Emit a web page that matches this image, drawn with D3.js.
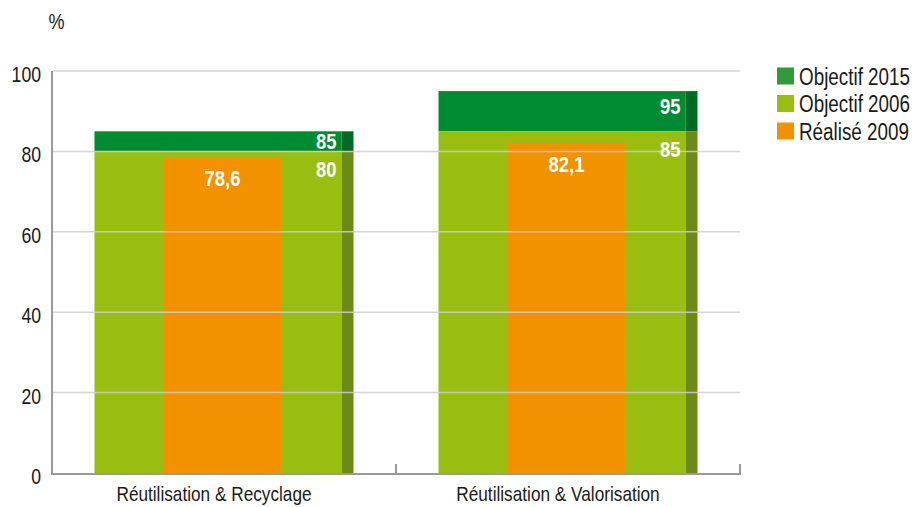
<!DOCTYPE html>
<html>
<head>
<meta charset="utf-8">
<script src="https://cdn.jsdelivr.net/npm/d3@7"></script>
<style>
html,body{margin:0;padding:0;background:#fff;}
svg{display:block;}
text{font-family:"Liberation Sans",Arial,sans-serif;}
</style>
</head>
<body>
<svg id="chart" width="916" height="507"></svg>
<script>
const categories = ["Réutilisation & Recyclage", "Réutilisation & Valorisation"];
const objectif2015 = [85, 95];
const objectif2006 = [80, 85];
const realise2009 = [78.6, 82.1];
const yTicks = [0, 20, 40, 60, 80, 100];
const legendLabels = ["Objectif 2015", "Objectif 2006", "Réalisé 2009"];

const colors = {
  g2015: "#008a32", g2015side: "#006a25",
  g2006: "#9abd11", g2006side: "#6b8a18",
  r2009: "#f39200",
  legend2015: "#319b3a"
};
const SX = 0.82; // condensed look

const svg = d3.select("#chart");
const y = d3.scaleLinear().domain([0, 100]).range([473, 71]);
const x = d3.scaleBand().domain(categories).range([52, 740]).padding(0);
const fmt = d3.formatLocale({decimal: ",", thousands: " ", grouping: [3], currency: ["", "€"]}).format("~g");

function addText(g, tx, ty, str, size, anchor, fill, weight) {
  return g.append("text")
    .attr("transform", `translate(${tx},${ty}) scale(${SX},1)`)
    .attr("text-anchor", anchor || "start")
    .attr("font-size", size)
    .attr("font-weight", weight || "normal")
    .attr("fill", fill || "#1a1a1a")
    .text(str);
}

const barW = 259, sideW = 12, orangeW = 117;
const bw = x.bandwidth();
const data = categories.map((c, i) => ({c, v15: objectif2015[i], v06: objectif2006[i], v09: realise2009[i]}));

const gBars = svg.append("g");
data.forEach(d => {
  const x0 = x(d.c) + (bw - barW) / 2;
  const mainW = barW - sideW;
  gBars.append("rect").attr("x", x0).attr("y", y(d.v15)).attr("width", mainW)
    .attr("height", y(d.v06) - y(d.v15)).attr("fill", colors.g2015);
  gBars.append("rect").attr("x", x0 + mainW).attr("y", y(d.v15)).attr("width", sideW)
    .attr("height", y(d.v06) - y(d.v15)).attr("fill", colors.g2015side);
  gBars.append("rect").attr("x", x0).attr("y", y(d.v06)).attr("width", mainW)
    .attr("height", y(0) - y(d.v06)).attr("fill", colors.g2006);
  gBars.append("rect").attr("x", x0 + mainW).attr("y", y(d.v06)).attr("width", sideW)
    .attr("height", y(0) - y(d.v06)).attr("fill", colors.g2006side);
  const ox = x(d.c) + (bw - orangeW) / 2 - 1.5;
  gBars.append("rect").attr("x", ox).attr("y", y(d.v09)).attr("width", orangeW)
    .attr("height", y(0) - y(d.v09)).attr("fill", colors.r2009);
});

const grid = svg.append("g");
yTicks.filter(t => t > 0).forEach(t => {
  grid.append("line").attr("x1", 52).attr("x2", 740).attr("y1", y(t)).attr("y2", y(t))
    .attr("stroke", "#cfcfcf").attr("stroke-width", 1.5).attr("opacity", 0.85);
});

const gLab = svg.append("g");
data.forEach(d => {
  const x0 = x(d.c) + (bw - barW) / 2;
  const right = x0 + barW - sideW - 5;
  addText(gLab, right, Math.min(y(d.v15) + 23, y(d.v06) - 2), fmt(d.v15), 22.5, "end", "#fff", "bold");
  addText(gLab, right, y(d.v06) + 26, fmt(d.v06), 22.5, "end", "#fff", "bold");
  addText(gLab, x(d.c) + bw / 2 - 1.5, y(d.v09) + 29, fmt(d.v09), 22.5, "middle", "#fff", "bold");
});

const axisColor = "#9a9a9a";
svg.append("line").attr("x1", 52).attr("x2", 52).attr("y1", y(100)).attr("y2", y(0) + 1)
  .attr("stroke", axisColor).attr("stroke-width", 2);
svg.append("line").attr("x1", 51).attr("x2", 741).attr("y1", y(0) + 1).attr("y2", y(0) + 1)
  .attr("stroke", axisColor).attr("stroke-width", 2);
categories.forEach(c => {
  const xe = x(c) + bw;
  svg.append("line").attr("x1", xe).attr("x2", xe).attr("y1", y(0) - 9).attr("y2", y(0) + 1)
    .attr("stroke", axisColor).attr("stroke-width", 2);
});

const gTicks = svg.append("g");
yTicks.forEach(t => addText(gTicks, 41, y(t) + 11, String(t), 21.5, "end"));

addText(svg, 56.5, 29, "%", 22, "middle");

const gX = svg.append("g");
categories.forEach(c => {
  const cx = x(c) + (bw - barW) / 2 + (barW - sideW) / 2 - 4;
  addText(gX, cx, 501, c, 21, "middle");
});

const legColors = [colors.legend2015, colors.g2006, colors.r2009];
const leg = svg.append("g");
legendLabels.forEach((l, i) => {
  const cy = 76 + i * 27.5;
  leg.append("rect").attr("x", 777).attr("y", cy - 8.5).attr("width", 17).attr("height", 17)
    .attr("fill", legColors[i]);
  addText(leg, 799, cy + 8.5, l, 23);
});
</script>
</body>
</html>
